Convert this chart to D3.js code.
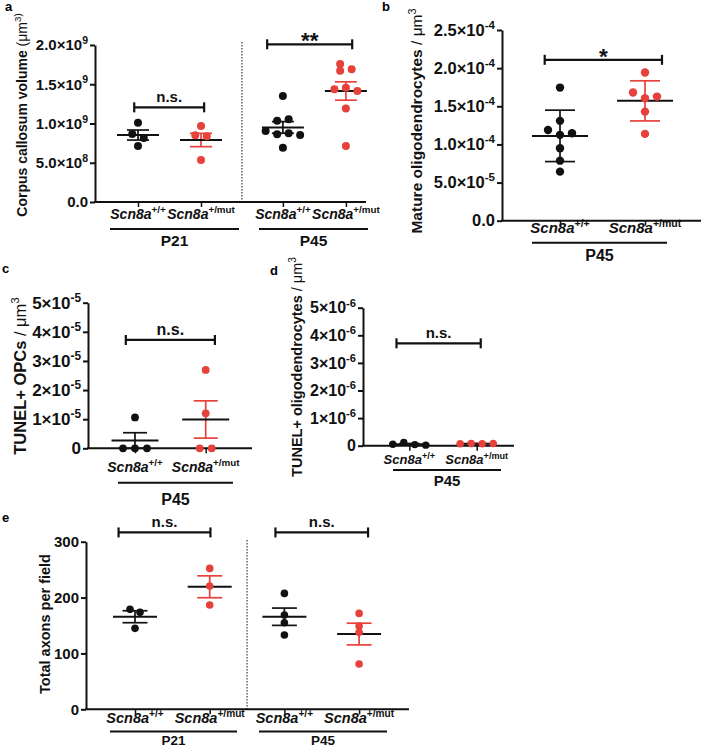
<!DOCTYPE html>
<html><head><meta charset="utf-8">
<script src="https://cdn.jsdelivr.net/npm/d3@7"></script>
<style>body{margin:0;background:#fff} svg text{font-family:"Liberation Sans",Arial,Helvetica,sans-serif}</style>
</head><body>
<svg id="chart" width="702" height="748"></svg>
<script>
// ================= DATA =================
const genotypes = ["Scn8a^+/+", "Scn8a^+/mut"];
const agesA = ["P21", "P45"];
const agesB = ["P45"];

// Panel a: corpus callosum volume (µm^3)
const aWT21  = [1.01e9, 0.815e9, 0.866e9, 0.713e9];
const aMut21 = [0.968e9, 0.837e9, 0.85e9, 0.535e9];
const aWT45  = [1.35e9, 1.054e9, 1.036e9, 0.875e9, 0.862e9, 0.854e9, 0.904e9, 0.692e9];
const aMut45 = [1.69e9, 1.758e9, 1.673e9, 1.456e9, 1.436e9, 1.414e9, 1.19e9, 0.713e9];
const aMean = [0.853e9, 0.79e9, 0.95e9, 1.414e9];
const aErr  = [0.064e9, 0.085e9, 0.074e9, 0.117e9];
const aTicks = [0, 5e8, 1e9, 1.5e9, 2e9];
const aTickLabels = ["0.0", "5.0×10^8", "1.0×10^9", "1.5×10^9", "2.0×10^9"];
const aSig = [{label: "n.s.", p1: -0.06, p2: 1.05, v: 1.206e9}, {label: "**", p1: 2.05, p2: 3.4, v: 2.009e9}];
const aTitle = ["Corpus callosum volume ", "(μm^3)"];

// Panel b: mature oligodendrocytes / µm^3
const bWT  = [1.745e-4, 1.309e-4, 1.125e-4, 1.19e-4, 1.147e-4, 0.95e-4, 0.787e-4, 0.643e-4];
const bMut = [1.942e-4, 1.606e-4, 1.68e-4, 1.627e-4, 1.43e-4, 1.138e-4];
const bMean = [1.112e-4, 1.571e-4];
const bErr  = [0.337e-4, 0.263e-4];
const bTicks = [0, 5e-5, 1e-4, 1.5e-4, 2e-4, 2.5e-4];
const bTickLabels = ["0.0", "5.0×10^-5", "1.0×10^-4", "1.5×10^-4", "2.0×10^-4", "2.5×10^-4"];
const bSig = [{label: "*", p1: -0.18, p2: 1.2, v: 2.109e-4}];
const bTitle = ["Mature oligodendrocytes ", "/ μm^3"];

// Panel c: TUNEL+ OPCs / µm^3
const cWT  = [1.06e-5, 0, 0, 0];
const cMut = [2.69e-5, 1.2e-5, 0, 0];
const cMean = [0.265e-5, 0.99e-5];
const cErr  = [0.27e-5, 0.64e-5];
const cTicks = [0, 1e-5, 2e-5, 3e-5, 4e-5, 5e-5];
const cTickLabels = ["0", "1×10^-5", "2×10^-5", "3×10^-5", "4×10^-5", "5×10^-5"];
const cSig = [{label: "n.s.", p1: -0.13, p2: 1.13, v: 3.72e-5}];
const cTitle = ["TUNEL+ OPCs ", "/ μm^3"];

// Panel d: TUNEL+ oligodendrocytes / µm^3
const dWT  = [0.04e-6, 0.12e-6, 0.02e-6, 0.05e-6];
const dMut = [0.07e-6, 0.08e-6, 0.08e-6, 0.07e-6];
const dMean = [0.055e-6, 0.075e-6];
const dErr  = [0.025e-6, 0.004e-6];
const dTicks = [0, 1e-6, 2e-6, 3e-6, 4e-6, 5e-6];
const dTickLabels = ["0", "1×10^-6", "2×10^-6", "3×10^-6", "4×10^-6", "5×10^-6"];
const dSig = [{label: "n.s.", p1: -0.19, p2: 1.06, v: 3.71e-6}];
const dTitle = ["TUNEL+ oligodendrocytes ", "/ μm^3"];

// Panel e: total axons per field
const eWT21  = [144.9, 173.5, 178.9];
const eMut21 = [252.2, 220.6, 186.6];
const eWT45  = [207.5, 168.7, 154.9, 132.9];
const eMut45 = [171.7, 149, 137.7, 81];
const eMean = [165.7, 219.3, 165.7, 134.7];
const eErr  = [10.7, 19.6, 15.5, 19.4];
const eTicks = [0, 100, 200, 300];
const eTickLabels = ["0", "100", "200", "300"];
const eSig = [{label: "n.s.", p1: -0.22, p2: 1.01, v: 316.6}, {label: "n.s.", p1: 1.88, p2: 3.12, v: 316.6}];
const eTitle = ["Total axons per field", ""];

// ================= DRAWING =================
const svg = d3.select("#chart");
const FONT = "'Liberation Sans', Arial, Helvetica, sans-serif";
const BLACK = "#111";
const RED = "#e6413b";
const SUP = 0.7;

function parseSup(s) {
  const i = s.indexOf("^");
  return i < 0 ? [{t: s}] : [{t: s.slice(0, i)}, {t: s.slice(i + 1), sup: true}];
}
function writeParts(text, parts, fs) {
  text.text(null);
  let up = false;
  parts.forEach(p => {
    if (p.t === "") return;
    const ts = text.append("tspan").text(p.t);
    if (p.sup) {
      ts.attr("font-size", SUP * fs);
      if (!up) { ts.attr("dy", -0.42 * fs); up = true; }
    } else if (up) { ts.attr("dy", 0.42 * fs); up = false; }
    if (p.it) ts.attr("font-style", "italic");
    if (p.w) ts.attr("font-weight", p.w);
  });
}
function genoParts(s) {
  const parts = parseSup(s);
  parts[0].it = true;
  return parts;
}

function swarm(vals, y, step, thr) {
  const placed = [];
  const cand = [0];
  for (let k = 1; k < 10; k++) cand.push(-k, k);
  vals.forEach(v => {
    const py = y(v);
    const slot = cand.find(s => !placed.some(p => p.slot === s && Math.abs(p.py - py) < thr));
    placed.push({v, py, slot});
  });
  const comp = placed.map(() => -1);
  let c = 0;
  placed.forEach((p, i) => {
    if (comp[i] >= 0) return;
    const stack = [i]; comp[i] = c;
    while (stack.length) {
      const j = stack.pop();
      placed.forEach((q, k) => {
        if (comp[k] < 0 && Math.abs(q.py - placed[j].py) < thr) { comp[k] = c; stack.push(k); }
      });
    }
    c++;
  });
  for (let k = 0; k < c; k++) {
    const members = placed.filter((p, i) => comp[i] === k);
    const mn = d3.min(members, p => p.slot), mx = d3.max(members, p => p.slot);
    const sh = (mn + mx) / 2;
    members.forEach(p => p.dx = (p.slot - sh) * step);
  }
  return placed;
}

function drawPanel(L, D) {
  const g = svg.append("g");
  const y = d3.scaleLinear().domain([0, D.yMax]).range([L.y0, L.y1]);
  const x = d3.scaleLinear().domain([0, 1]).range([L.cx0, L.cx0 + L.unit]);

  g.append("text").attr("x", L.letter[0]).attr("y", L.letter[1]).attr("font-size", 13)
    .attr("font-weight", "bold").text(L.letterText);

  // y axis
  const ya = g.append("g").attr("transform", `translate(${L.x0},0)`)
    .call(d3.axisLeft(y).tickValues(D.ticks).tickSize(5).tickSizeOuter(0).tickFormat((d, i) => D.tickLabels[i]));
  ya.select(".domain").attr("stroke-width", 2).attr("stroke", BLACK);
  ya.selectAll(".tick line").attr("stroke-width", 2).attr("stroke", BLACK);
  ya.selectAll(".tick text").each(function(d, i) {
    const t = d3.select(this);
    t.attr("font-size", L.tickFs).attr("font-weight", "bold").attr("font-family", FONT).attr("fill", BLACK).attr("x", -7);
    writeParts(t, parseSup(D.tickLabels[i]), L.tickFs);
  });

  // x axis
  const xa = g.append("g").attr("transform", `translate(0,${L.y0})`)
    .call(d3.axisBottom(x).tickValues(D.catPos).tickSize(5).tickSizeOuter(0).tickFormat(""));
  xa.select(".domain").attr("d", `M${L.x0 - 1},0H${L.x1}`).attr("stroke-width", 2).attr("stroke", BLACK);
  xa.selectAll(".tick line").attr("stroke-width", 1.5).attr("stroke", BLACK);

  // y title
  const tt = g.append("text").attr("transform", `translate(${L.title[0]},${L.title[1]}) rotate(-90)`)
    .attr("text-anchor", "middle").attr("dy", "0.35em").attr("font-size", L.titleFs).attr("fill", BLACK);
  const tparts = [{t: D.title[0], w: "bold"}].concat(parseSup(D.title[1]).map(p => Object.assign(p, {w: "normal"})));
  writeParts(tt, tparts, L.titleFs);

  // divider
  if (L.divider !== undefined) {
    g.append("line").attr("x1", x(L.divider)).attr("x2", x(L.divider)).attr("y1", L.divY).attr("y2", L.y0)
      .attr("stroke", BLACK).attr("stroke-width", 1).attr("stroke-dasharray", "1.5,1.5");
  }

  // groups: SEM/SD bars, means, dots
  D.groups.forEach((gr, i) => {
    const cx = x(D.catPos[i]);
    const m = D.mean[i], e = D.err[i];
    const yt = y(m + e), yb = y(Math.max(0, m - e));
    const col = gr.color;
    g.append("line").attr("x1", cx).attr("x2", cx).attr("y1", yt).attr("y2", yb).attr("stroke", col).attr("stroke-width", 1.7);
    [yt, yb].forEach(yy => g.append("line").attr("x1", cx - L.capW / 2).attr("x2", cx + L.capW / 2)
      .attr("y1", yy).attr("y2", yy).attr("stroke", col).attr("stroke-width", 1.7));
    g.append("line").attr("x1", cx - L.meanW / 2).attr("x2", cx + L.meanW / 2).attr("y1", y(m)).attr("y2", y(m))
      .attr("stroke", BLACK).attr("stroke-width", 2);
    const pts = swarm(gr.vals, y, L.step, L.thr);
    g.selectAll(null).data(pts).enter().append("circle")
      .attr("cx", p => cx + p.dx).attr("cy", p => p.py).attr("r", L.r).attr("fill", gr.dot);
  });

  // significance bars
  D.sig.forEach(s => {
    const yy = y(s.v), xa1 = x(s.p1), xa2 = x(s.p2);
    g.append("line").attr("x1", xa1).attr("x2", xa2).attr("y1", yy).attr("y2", yy).attr("stroke", BLACK).attr("stroke-width", 2.2);
    [xa1, xa2].forEach(xx => g.append("line").attr("x1", xx).attr("x2", xx).attr("y1", yy - 5).attr("y2", yy + 5)
      .attr("stroke", BLACK).attr("stroke-width", 2.2));
    const star = s.label.indexOf("*") >= 0;
    g.append("text").attr("x", (xa1 + xa2) / 2).attr("y", star ? yy + 4 : yy - 5)
      .attr("text-anchor", "middle").attr("font-weight", "bold")
      .attr("font-size", star ? L.sigFs * 1.5 : L.sigFs).attr("fill", BLACK).text(s.label);
  });

  // category labels
  D.catPos.forEach((p, i) => {
    const t = g.append("text").attr("x", x(p)).attr("y", L.catY).attr("text-anchor", "middle")
      .attr("font-size", L.catFs).attr("font-weight", "bold").attr("fill", BLACK);
    writeParts(t, genoParts(genotypes[i % 2]), L.catFs);
  });

  // group underlines and age labels
  L.under.forEach((u, i) => {
    g.append("line").attr("x1", u[0]).attr("x2", u[1]).attr("y1", L.ulY).attr("y2", L.ulY).attr("stroke", BLACK).attr("stroke-width", 2);
    g.append("text").attr("x", (u[0] + u[1]) / 2).attr("y", L.grpY).attr("text-anchor", "middle")
      .attr("font-size", L.grpFs).attr("font-weight", "bold").attr("fill", BLACK).text(D.ages[i]);
  });
}

const wtStyle = {color: BLACK, dot: BLACK};
const mutStyle = {color: RED, dot: RED};

drawPanel(
  {letterText: "a", letter: [5, 11], x0: 95, x1: 366, y0: 202, y1: 45, cx0: 138, unit: 63,
   tickFs: 15, catFs: 14, catY: 219, ulY: 229, under: [[110, 239], [259, 368]], grpY: 246, grpFs: 15.5,
   title: [22, 115], titleFs: 14, divider: 1.65, divY: 42, r: 4, step: 11.5, thr: 6, meanW: 42, capW: 22, sigFs: 15},
  {yMax: 2e9, ticks: aTicks, tickLabels: aTickLabels, catPos: [0, 1, 2.3, 3.3], mean: aMean, err: aErr, sig: aSig,
   title: aTitle, ages: agesA,
   groups: [Object.assign({vals: aWT21}, wtStyle), Object.assign({vals: aMut21}, mutStyle),
            Object.assign({vals: aWT45}, wtStyle), Object.assign({vals: aMut45}, mutStyle)]}
);

drawPanel(
  {letterText: "b", letter: [382, 11], x0: 502, x1: 701, y0: 220.7, y1: 30, cx0: 560, unit: 85,
   tickFs: 16.5, catFs: 15, catY: 233, ulY: 242.7, under: [[532, 667]], grpY: 261, grpFs: 16,
   title: [417, 121], titleFs: 15.5, r: 4.2, step: 12, thr: 6, meanW: 56, capW: 30, sigFs: 15},
  {yMax: 2.5e-4, ticks: bTicks, tickLabels: bTickLabels, catPos: [0, 1], mean: bMean, err: bErr, sig: bSig,
   title: bTitle, ages: agesB,
   groups: [Object.assign({vals: bWT}, wtStyle), Object.assign({vals: bMut}, mutStyle)]}
);

drawPanel(
  {letterText: "c", letter: [2, 273], x0: 88, x1: 252, y0: 448.3, y1: 302.7, cx0: 135, unit: 70.7,
   tickFs: 17, catFs: 14, catY: 472, ulY: 482.7, under: [[118, 233]], grpY: 505, grpFs: 16,
   title: [20, 376], titleFs: 16.5, r: 3.9, step: 12, thr: 6, meanW: 47, capW: 24, sigFs: 16},
  {yMax: 5e-5, ticks: cTicks, tickLabels: cTickLabels, catPos: [0, 1], mean: cMean, err: cErr, sig: cSig,
   title: cTitle, ages: agesB,
   groups: [Object.assign({vals: cWT}, wtStyle), Object.assign({vals: cMut}, mutStyle)]}
);

drawPanel(
  {letterText: "d", letter: [270, 275], x0: 363, x1: 514, y0: 445.7, y1: 307.7, cx0: 409.3, unit: 67.4,
   tickFs: 16, catFs: 13, catY: 464, ulY: 470, under: [[393, 501]], grpY: 486, grpFs: 15,
   title: [297, 367], titleFs: 14.5, r: 3.7, step: 11, thr: 6, meanW: 40, capW: 20, sigFs: 15},
  {yMax: 5e-6, ticks: dTicks, tickLabels: dTickLabels, catPos: [0, 1], mean: dMean, err: dErr, sig: dSig,
   title: dTitle, ages: agesB,
   groups: [Object.assign({vals: dWT}, wtStyle), Object.assign({vals: dMut}, mutStyle)]}
);

drawPanel(
  {letterText: "e", letter: [2, 522], x0: 86, x1: 409, y0: 709.3, y1: 541.7, cx0: 135, unit: 74.7,
   tickFs: 15, catFs: 14.5, catY: 723, ulY: 731.5, under: [[110, 237], [259, 387]], grpY: 744.5, grpFs: 13.5,
   title: [45, 624], titleFs: 14.5, divider: 1.5, divY: 540, r: 3.8, step: 10, thr: 6, meanW: 44, capW: 25, sigFs: 15},
  {yMax: 300, ticks: eTicks, tickLabels: eTickLabels, catPos: [0, 1, 2, 3], mean: eMean, err: eErr, sig: eSig,
   title: eTitle, ages: agesA,
   groups: [Object.assign({vals: eWT21}, wtStyle), Object.assign({vals: eMut21}, mutStyle),
            Object.assign({vals: eWT45}, wtStyle), Object.assign({vals: eMut45}, mutStyle)]}
);
</script>
</body></html>
